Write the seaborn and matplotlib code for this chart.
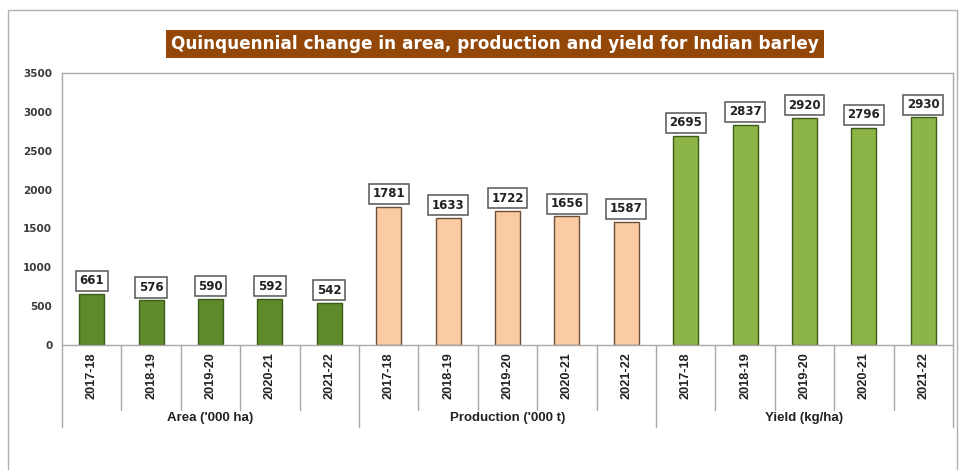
import matplotlib
matplotlib.use("Agg")
import matplotlib.pyplot as plt
import seaborn as sns
import pandas as pd
from matplotlib.patches import Rectangle
from matplotlib.lines import Line2D

seasons = ["2017-18", "2018-19", "2019-20", "2020-21", "2021-22"]
groups = ["Area ('000 ha)", "Production ('000 t)", "Yield (kg/ha)"]
area = [661, 576, 590, 592, 542]
production = [1781, 1633, 1722, 1656, 1587]
yield_kg = [2695, 2837, 2920, 2796, 2930]
title = "Quinquennial change in area, production and yield for Indian barley"

fills = {groups[0]: "#5E8A2A", groups[1]: "#FBCBA3", groups[2]: "#8DB446"}
edges = {groups[0]: "#3C5A18", groups[1]: "#6E5038", groups[2]: "#3E5A1A"}

rows = []
for g, vals in zip(groups, [area, production, yield_kg]):
    for s, v in zip(seasons, vals):
        rows.append({"group": g, "season": s, "slot": f"{g}|{s}", "value": v})
df = pd.DataFrame(rows)

sns.set_theme(style="white")
plt.rcParams["font.family"] = ["DejaVu Sans"]

fig = plt.figure(figsize=(9.61, 4.70), dpi=100)
W, H = 961, 470
ax = fig.add_axes([62 / W, 1 - 345 / H, (953 - 62) / W, (345 - 73) / H])

sns.barplot(data=df, x="slot", y="value", hue="group", palette=fills,
            dodge=False, width=0.42, legend=False, ax=ax, saturation=1)

for patch, (_, r) in zip(ax.patches, df.iterrows()):
    patch.set_edgecolor(edges[r["group"]])
    patch.set_linewidth(1.0)

ax.set_ylim(0, 3500)
ax.set_xlim(-0.5, len(df) - 0.5)
ax.set_yticks(range(0, 3501, 500))
ax.set_yticklabels([str(v) for v in range(0, 3501, 500)], fontsize=7.5,
                   color="#3A3A3A", fontweight="bold")
ax.tick_params(axis="y", length=0, pad=7)
ax.set_xticks([])
ax.set_xlabel("")
ax.set_ylabel("")
for sp in ax.spines.values():
    sp.set_color("#A8A8A8")
    sp.set_linewidth(1.0)

# value boxes above each bar
for i, v in enumerate(df["value"]):
    ax.annotate(str(v), (i, v), xytext=(0, 4.5), textcoords="offset points",
                ha="center", va="bottom", fontsize=8.5, fontweight="bold",
                color="#222222",
                bbox=dict(boxstyle="square,pad=0.3", fc="white",
                          ec="#555555", lw=1.1))

trans = ax.get_xaxis_transform()
# season labels and separators under the axis
for i, s in enumerate(df["season"]):
    ax.text(i, -0.028, s, transform=trans, rotation=90, ha="center", va="top",
            fontsize=9.2, fontweight="bold", color="#222222",
            family="Liberation Sans")
for k in range(1, len(df)):
    low = -0.301 if k % 5 == 0 else -0.239
    ax.add_line(Line2D([k - 0.5, k - 0.5], [0, low], transform=trans,
                       color="#A8A8A8", lw=1.0, clip_on=False))
for x in (-0.5, len(df) - 0.5):
    ax.add_line(Line2D([x, x], [0, -0.301], transform=trans,
                       color="#A8A8A8", lw=1.0, clip_on=False))
for j, g in enumerate(groups):
    ax.text(j * 5 + 2, -0.268, g, transform=trans, ha="center", va="center",
            fontsize=9.5, fontweight="bold", color="#222222",
            family="Liberation Sans")

# title banner
fig.text(495 / W, 1 - 44 / H, title, ha="center", va="center", fontsize=12.2,
         fontweight="bold", color="white",
         bbox=dict(boxstyle="square,pad=0.3", fc="#93480A", ec="none"))

# outer frame
fig.add_artist(Rectangle((8 / W, -0.01), (957 - 8) / W, 1 - 10 / H + 0.01,
                         transform=fig.transFigure, fill=False,
                         ec="#B0B0B0", lw=1.0))

fig.savefig("out.png", dpi=100, facecolor="white")
